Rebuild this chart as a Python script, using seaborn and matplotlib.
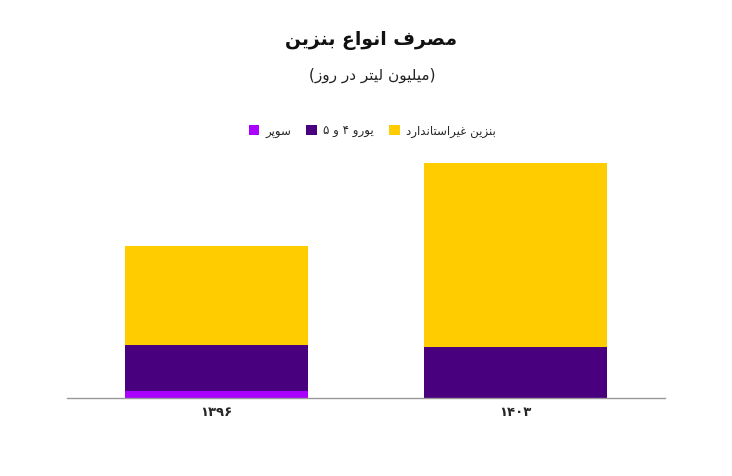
import matplotlib
matplotlib.use("Agg")
import matplotlib.pyplot as plt
import seaborn as sns
import numpy as np
from matplotlib.patches import Patch

# ---- data ----
years = ["۱۳۹۶", "۱۴۰۳"]
super_vals = [4.0, 0.0]
euro_vals = [25.1, 28.1]
nonstd_vals = [54.6, 101.2]
series_names = ["سوپر", "یورو ۴ و ۵", "بنزین غیراستاندارد"]
series_colors = ["#AA00FF", "#48007F", "#FFCC00"]
title_txt = "مصرف انواع بنزین"
subtitle_txt = "میلیون لیتر در روز"

# ---- minimal Persian shaper (presentation forms + visual order) ----
FORMS = {
    "ا": ("\uFE8D", "\uFE8E", None, None),
    "ب": ("\uFE8F", "\uFE90", "\uFE91", "\uFE92"),
    "پ": ("\uFB56", "\uFB57", "\uFB58", "\uFB59"),
    "ت": ("\uFE95", "\uFE96", "\uFE97", "\uFE98"),
    "د": ("\uFEA9", "\uFEAA", None, None),
    "ر": ("\uFEAD", "\uFEAE", None, None),
    "ز": ("\uFEAF", "\uFEB0", None, None),
    "س": ("\uFEB1", "\uFEB2", "\uFEB3", "\uFEB4"),
    "ص": ("\uFEB9", "\uFEBA", "\uFEBB", "\uFEBC"),
    "ع": ("\uFEC9", "\uFECA", "\uFECB", "\uFECC"),
    "غ": ("\uFECD", "\uFECE", "\uFECF", "\uFED0"),
    "ف": ("\uFED1", "\uFED2", "\uFED3", "\uFED4"),
    "ل": ("\uFEDD", "\uFEDE", "\uFEDF", "\uFEE0"),
    "م": ("\uFEE1", "\uFEE2", "\uFEE3", "\uFEE4"),
    "ن": ("\uFEE5", "\uFEE6", "\uFEE7", "\uFEE8"),
    "و": ("\uFEED", "\uFEEE", None, None),
    "ی": ("\uFBFC", "\uFBFD", "\uFBFE", "\uFBFF"),
}


def dual(c):
    return c in FORMS and FORMS[c][2] is not None


def shape(s):
    out = []
    n = len(s)
    for i, c in enumerate(s):
        if c not in FORMS:
            out.append(c)
            continue
        prev = s[i - 1] if i > 0 else ""
        nxt = s[i + 1] if i + 1 < n else ""
        jp = dual(prev)
        jn = dual(c) and nxt in FORMS
        f = FORMS[c]
        if jp and jn:
            out.append(f[3])
        elif jp:
            out.append(f[1])
        elif jn:
            out.append(f[2])
        else:
            out.append(f[0])
    return "".join(out)[::-1]


# ---- figure ----
sns.set_theme(style="white")
plt.rcParams["font.family"] = ["DejaVu Sans"]

fig = plt.figure(figsize=(7.32, 4.76), dpi=100)
ax = fig.add_axes([67 / 732, 78 / 476, 598 / 732, 248 / 476])

bottom_euro = np.array(super_vals)
bottom_non = bottom_euro + np.array(euro_vals)
layers = [(super_vals, np.zeros(2)), (euro_vals, bottom_euro), (nonstd_vals, bottom_non)]
for (vals, bot), col in zip(layers, series_colors):
    sns.barplot(x=years, y=vals, bottom=bot, color=col, width=0.615,
                ax=ax, linewidth=0, saturation=1)

total_max = max(np.array(super_vals) + np.array(euro_vals) + np.array(nonstd_vals))
ax.set_ylim(0, total_max * 248 / 235)
ax.set_xlim(-0.5, 1.5)
ax.set_yticks([])
for sp in ["top", "right", "left"]:
    ax.spines[sp].set_visible(False)
ax.spines["bottom"].set_color("#999999")
ax.spines["bottom"].set_linewidth(1.0)
ax.tick_params(axis="x", length=0, pad=6, labelsize=9.5)
for lab in ax.get_xticklabels():
    lab.set_fontweight("bold")
ax.set_xlabel("")
ax.set_ylabel("")

fig.text(371 / 732, 1 - 41 / 476, shape(title_txt), ha="center", va="center",
         fontsize=13.5, fontweight="bold", color="#111111")
fig.text(372 / 732, 1 - 75 / 476, "(" + shape(subtitle_txt) + ")", ha="center",
         va="center", fontsize=11, color="#222222")

handles = [Patch(facecolor=c, edgecolor="none") for c in series_colors]
fig.legend(handles, [shape(t) for t in series_names], loc="center",
           bbox_to_anchor=(372 / 732, 1 - 131 / 476), ncol=3, frameon=False,
           fontsize=8.5, handlelength=0.9, handleheight=0.9, handletextpad=0.5,
           columnspacing=1.3)

fig.savefig("out.png", dpi=100)
